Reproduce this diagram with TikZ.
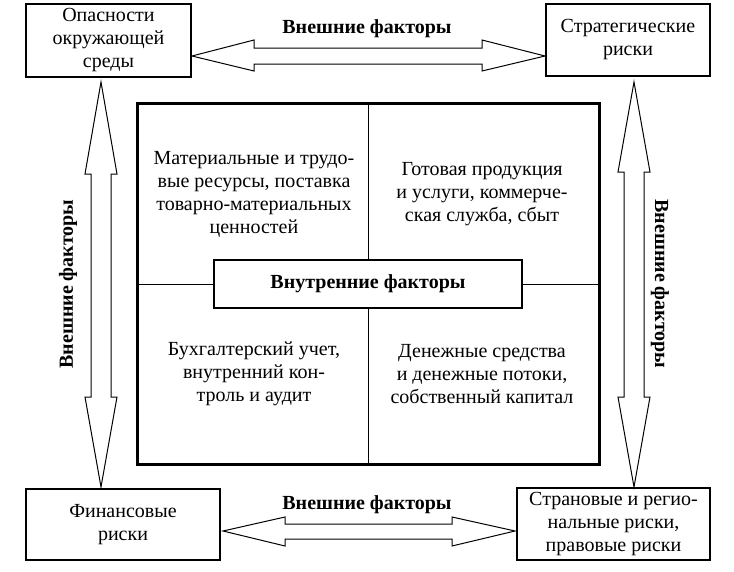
\documentclass[tikz,border=0pt]{standalone}
\usepackage{fontspec}
\setmainfont{Liberation Serif}
\begin{document}
\begin{tikzpicture}[x=1pt,y=-1pt,
  box/.style={draw,line width=1.3pt,align=center,inner sep=0pt},
  txt/.style={align=center},
  lab/.style={font=\fontsize{20}{23}\selectfont\bfseries},
  arr/.style={draw,line width=1pt,line join=miter}]
\useasboundingbox (0,0) rectangle (734,571);
\tikzset{every node/.append style={font=\fontsize{20}{23}\selectfont}}
% corner boxes
\node[box,minimum width=165,minimum height=73] (tl) at (108.5,40.5) {Опасности\\окружающей\\среды};
\node[box,minimum width=164,minimum height=72] (tr) at (628,40) {Стратегические\\риски};
\node[box,minimum width=194,minimum height=71] (bl) at (123,524.5) {Финансовые\\риски};
\node[box,minimum width=193,minimum height=72] (br) at (613.5,524) {Страновые и регио-\\нальные риски,\\правовые риски};
% central
\draw[line width=3pt] (137,103) rectangle (599,464);
\coordinate (ct) at (368,103); \coordinate (cb) at (368,464);
\coordinate (cl) at (137,284); \coordinate (cr) at (599,284);
\node[box,minimum width=308,minimum height=48,font=\fontsize{20}{23}\selectfont\bfseries] (in) at (368,284) {Внутренние факторы};
\draw[line width=0.6pt] (ct) -- (in.north) (in.south) -- (cb) (cl) -- (in.west) (in.east) -- (cr);
\node[txt] (q1) at (254,194) {Материальные и трудо-\\вые ресурсы, поставка\\товарно-материальных\\ценностей};
\node[txt] (q2) at (482,194) {Готовая продукция\\и услуги, коммерче-\\ская служба, сбыт};
\node[txt] (q3) at (254,374) {Бухгалтерский учет,\\внутренний кон-\\троль и аудит};
\node[txt] (q4) at (482,374) {Денежные средства\\и денежные потоки,\\собственный капитал};
% arrows
\draw[arr] (192,56) -- (254,40) -- (254,48) -- (482,48) -- (482,40) -- (545,56) -- (482,71) -- (482,64) -- (254,64) -- (254,71) -- cycle;
\draw[arr] (223,531) -- (285,517) -- (285,524) -- (452,524) -- (452,517) -- (515,531) -- (452,546) -- (452,539) -- (285,539) -- (285,546) -- cycle;
\draw[arr] (101,82) -- (117,174) -- (111,174) -- (111,397) -- (117,397) -- (101,487) -- (85,397) -- (91,397) -- (91,174) -- (85,174) -- cycle;
\draw[arr] (634,82) -- (650,172) -- (644,172) -- (644,397) -- (650,397) -- (634,487) -- (618,397) -- (624,397) -- (624,172) -- (618,172) -- cycle;
\node[lab] (lt) at (367,29) {Внешние факторы};
\node[lab] (lb) at (367,505) {Внешние факторы};
\node[lab,rotate=90] (ll) at (68,284) {Внешние факторы};
\node[lab,rotate=-90] (lr) at (660,284) {Внешние факторы};
\end{tikzpicture}
\end{document}
